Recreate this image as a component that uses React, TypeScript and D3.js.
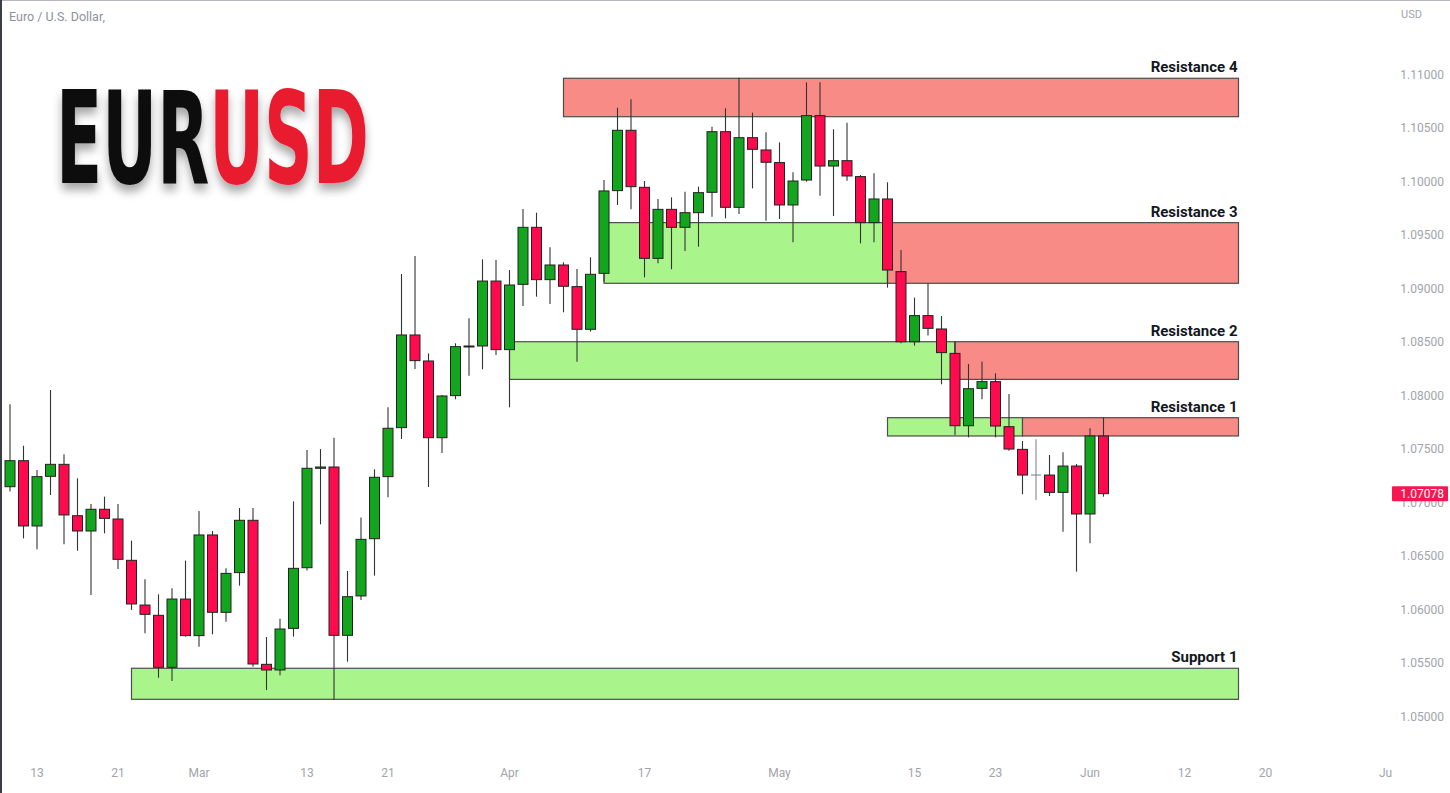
import * as d3 from "d3";

// EURUSD daily, 9 Feb 2023 .. 2 Jun 2023 (one value per trading day)
const opens = [
  1.07143, 1.07386, 1.06776, 1.0724, 1.07352, 1.06872, 1.06729, 1.06932, 1.06841, 1.06455,
  1.06037, 1.05941, 1.05455, 1.06093, 1.05751, 1.06692, 1.05969, 1.0634, 1.06829, 1.05483,
  1.0543, 1.05819, 1.06386, 1.07315, 1.07327, 1.05754, 1.06122, 1.06657, 1.07237, 1.07695,
  1.08561, 1.08318, 1.07601, 1.07994, 1.08452, 1.08458, 1.09065, 1.08424, 1.09034, 1.09567,
  1.09078, 1.09215, 1.09013, 1.08614, 1.09137, 1.0991, 1.10474, 1.09941, 1.09277, 1.09735,
  1.09567, 1.09704, 1.09894, 1.10461, 1.09754, 1.10405, 1.1029, 1.10172, 1.09776, 1.10009,
  1.10611, 1.1014, 1.1019, 1.10041, 1.09611, 1.09832, 1.09153, 1.08498, 1.08742, 1.08617,
  1.08389, 1.07713, 1.08062, 1.08125, 1.07704, 1.07492, 1.07252, 1.07252, 1.0709, 1.07336,
  1.06888, 1.07617,
];
const highs = [
  1.07913, 1.07526, 1.07299, 1.08047, 1.07446, 1.07221, 1.06981, 1.0705, 1.06981, 1.06639,
  1.06277, 1.06137, 1.06193, 1.06452, 1.06916, 1.06729, 1.0638, 1.06944, 1.06944, 1.05738,
  1.0591, 1.07006, 1.07486, 1.07495, 1.07601, 1.06355, 1.06854, 1.07305, 1.07885, 1.09131,
  1.09299, 1.08389, 1.08, 1.08483, 1.08717, 1.09268, 1.09262, 1.09168, 1.09738, 1.09704,
  1.0938, 1.0924, 1.09178, 1.09287, 1.10009, 1.10685, 1.10763, 1.1, 1.09832, 1.09847,
  1.099, 1.09947, 1.10508, 1.10679, 1.10965, 1.10639, 1.10455, 1.10361, 1.10081, 1.10922,
  1.10922, 1.10483, 1.10545, 1.10056, 1.10072, 1.09988, 1.09355, 1.0891, 1.09044, 1.08738,
  1.08498, 1.0829, 1.08312, 1.08203, 1.0801, 1.0757, 1.07586, 1.07439, 1.07464, 1.07355,
  1.07689, 1.07788,
];
const lows = [
  1.07097, 1.0666, 1.06558, 1.07065, 1.06604, 1.06545, 1.06131, 1.06707, 1.06374, 1.05991,
  1.05773, 1.05358, 1.05327, 1.05742, 1.05648, 1.05763, 1.05882, 1.06218, 1.05461, 1.05243,
  1.0538, 1.05742, 1.0636, 1.06791, 1.0515, 1.05508, 1.06084, 1.06312, 1.07044, 1.07589,
  1.08243, 1.0714, 1.07458, 1.0796, 1.08181, 1.0824, 1.08374, 1.07885, 1.08832, 1.08919,
  1.0885, 1.08773, 1.08311, 1.08592, 1.09059, 1.09776, 1.09735, 1.091, 1.09231, 1.09175,
  1.09346, 1.09386, 1.09667, 1.09651, 1.09692, 1.09931, 1.09629, 1.09645, 1.09427, 1.09994,
  1.09863, 1.09673, 1.10003, 1.09417, 1.09427, 1.09003, 1.08483, 1.08461, 1.08555, 1.081,
  1.07626, 1.07604, 1.0796, 1.07604, 1.0748, 1.07072, 1.07019, 1.07056, 1.06723, 1.06349,
  1.06614, 1.0705,
];
const closes = [
  1.07386, 1.06776, 1.07237, 1.07352, 1.06879, 1.06729, 1.06932, 1.06847, 1.06464, 1.06047,
  1.0595, 1.05455, 1.06093, 1.05751, 1.06692, 1.05969, 1.06333, 1.06829, 1.05486, 1.0543,
  1.05813, 1.0638, 1.07315, 1.07327, 1.05754, 1.06115, 1.06651, 1.07231, 1.07689, 1.08561,
  1.08321, 1.07601, 1.07991, 1.08452, 1.08458, 1.09065, 1.08424, 1.09028, 1.09567, 1.09078,
  1.09215, 1.09016, 1.08614, 1.09128, 1.09907, 1.10474, 1.09947, 1.09277, 1.09735, 1.09567,
  1.09704, 1.09891, 1.10461, 1.09754, 1.10405, 1.10296, 1.10175, 1.09776, 1.1, 1.10611,
  1.1014, 1.1019, 1.10047, 1.09611, 1.09832, 1.09168, 1.08498, 1.08742, 1.08623, 1.08396,
  1.07713, 1.08059, 1.08125, 1.0771, 1.07495, 1.07252, 1.07252, 1.0709, 1.07336, 1.06888,
  1.07617, 1.07078,
];

const priceTicks = [1.05, 1.055, 1.06, 1.065, 1.07, 1.075, 1.08, 1.085, 1.09, 1.095, 1.1, 1.105, 1.11];
// trading-day index of each date label
const dateTickIdx = [2, 8, 14, 22, 28, 37, 47, 57, 67, 73, 80, 87, 93, 102];
const dateTickLabels = ["13", "21", "Mar", "13", "21", "Apr", "17", "May", "15", "23", "Jun", "12", "20", "Jul"];

const zoneNames = ["Resistance 4", "Resistance 3", "Resistance 2", "Resistance 1", "Support 1"];
const zoneTops = [1.1096, 1.09611, 1.08498, 1.07788, 1.05446];
const zoneBottoms = [1.10601, 1.09044, 1.08146, 1.07617, 1.05156];
const zoneStarts = [41, 44, 37, 65, 9];
const zoneFlips = [41, 65, 70, 75, 91]; // green before, red after
const zoneEnd = 91;

const lastPrice = 1.07078;

const GREEN = "#12a51d";
const RED = "#ff0a4c";
const axisFont = "Roboto, 'Noto Sans', sans-serif";

export default function App() {
  const x = d3.scaleLinear().domain([0, 102]).range([10, 1387]);
  const y = d3.scaleLinear().domain([1.05, 1.11]).range([716, 74]);
  const bw = 10;

  return (
    <svg
      width={1450}
      height={793}
      style={{ position: "absolute", left: 0, top: 0, background: "#fff" }}
    >
      <defs>
        <filter id="shadow" x="-20%" y="-30%" width="140%" height="170%">
          <feDropShadow dx="0" dy="7" stdDeviation="5" floodColor="#000" floodOpacity="0.35" />
        </filter>
        <clipPath id="plot">
          <rect x={0} y={0} width={1392} height={793} />
        </clipPath>
      </defs>

      {/* frame */}
      <line x1={0} y1={0.5} x2={1450} y2={0.5} stroke="#b5b8bf" />
      <line x1={1} y1={0} x2={1} y2={793} stroke="#3b3e47" strokeWidth={2} />

      <text x={9} y={21} fontSize={12.5} fill="#8e929b" fontFamily={axisFont}>
        Euro / U.S. Dollar,
      </text>

      {/* big title */}
      <text
        x={56}
        y={183}
        textLength={313}
        lengthAdjust="spacingAndGlyphs"
        filter="url(#shadow)"
        fontFamily="'DejaVu Sans Condensed', 'Liberation Sans Narrow', 'DejaVu Sans', sans-serif"
        fontWeight="bold"
        fontSize={128}
      >
        <tspan fill="#0a0a0a">EUR</tspan>
        <tspan fill="#e81a2f">USD</tspan>
      </text>

      {/* zones */}
      {zoneNames.map((name, i) => {
        const yt = y(zoneTops[i]);
        const yb = y(zoneBottoms[i]);
        const xs = x(zoneStarts[i]);
        const xf = x(zoneFlips[i]);
        const xe = x(zoneEnd);
        return (
          <g key={name}>
            {xf > xs && (
              <rect x={xs} y={yt} width={xf - xs} height={yb - yt} fill="#aaf58b" stroke="#4d4d4d" strokeWidth={1.2} />
            )}
            {xe > xf && (
              <rect x={xf} y={yt} width={xe - xf} height={yb - yt} fill="#f98b86" stroke="#4d4d4d" strokeWidth={1.2} />
            )}
            <text
              x={xe - 1}
              y={yt - 6}
              textAnchor="end"
              fontSize={15}
              fontWeight="bold"
              fill="#131722"
              fontFamily="Roboto, 'Noto Sans', sans-serif"
            >
              {name}
            </text>
          </g>
        );
      })}

      {/* candles */}
      <g clipPath="url(#plot)">
        {opens.map((o, i) => {
          const c = closes[i];
          const cx = x(i);
          const top = y(Math.max(o, c));
          const bot = y(Math.min(o, c));
          const fill = c > o ? GREEN : c < o ? RED : "#777";
          return (
            <g key={i}>
              <line x1={cx} x2={cx} y1={y(highs[i])} y2={y(lows[i])} stroke={c === o ? "#888" : "#333"} strokeWidth={1.1} />
              {c === o ? (
                <line x1={cx - bw / 2} x2={cx + bw / 2} y1={top} y2={top} stroke="#888" strokeWidth={1.1} />
              ) : (
                <rect
                  x={cx - bw / 2}
                  y={top}
                  width={bw}
                  height={Math.max(bot - top, 1)}
                  fill={fill}
                  stroke="#222"
                  strokeWidth={1}
                />
              )}
            </g>
          );
        })}
      </g>

      {/* price axis */}
      <text x={1401} y={18} fontSize={11} fill="#a1a4ac" fontFamily={axisFont}>
        USD
      </text>
      {priceTicks.map((p) => (
        <text
          key={p}
          x={1444}
          y={y(p) + 4.5}
          textAnchor="end"
          fontSize={12}
          fill="#a1a4ac"
          fontFamily={axisFont}
        >
          {p.toFixed(5)}
        </text>
      ))}
      <rect x={1392} y={y(lastPrice) - 7.5} width={56} height={15} fill="#f7164f" rx={1} />
      <text
        x={1444}
        y={y(lastPrice) + 4.5}
        textAnchor="end"
        fontSize={12}
        fill="#fff"
        fontFamily={axisFont}
      >
        {lastPrice.toFixed(5)}
      </text>

      {/* time axis */}
      <g clipPath="url(#plot)">
        {dateTickIdx.map((d, i) => (
          <text
            key={i}
            x={x(d)}
            y={777}
            textAnchor="middle"
            fontSize={12}
            fill="#a1a4ac"
            fontFamily={axisFont}
          >
            {dateTickLabels[i]}
          </text>
        ))}
      </g>
    </svg>
  );
}
